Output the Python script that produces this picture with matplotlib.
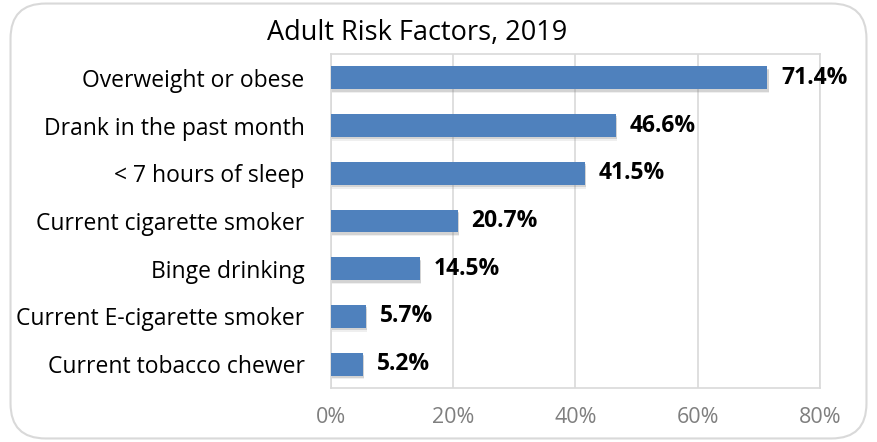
import matplotlib.pyplot as plt
from matplotlib.patches import FancyBboxPatch
import numpy as np

categories = ['Overweight or obese', 'Drank in the past month', '< 7 hours of sleep',
              'Current cigarette smoker', 'Binge drinking', 'Current E-cigarette smoker',
              'Current tobacco chewer']
values = [71.4, 46.6, 41.5, 20.7, 14.5, 5.7, 5.2]
xticks = [0, 20, 40, 60, 80]

plt.rcParams['font.family'] = ['Open Sans', 'DejaVu Sans']

fig = plt.figure(figsize=(8.77, 4.42), dpi=100)
fig.patches.append(FancyBboxPatch((0.012, 0.008), 0.976, 0.984,
                                  boxstyle='round,pad=0,rounding_size=0.04',
                                  transform=fig.transFigure, fc='white',
                                  ec='#D9D9D9', lw=1.5, zorder=-1,
                                  mutation_aspect=877 / 442))
ax = fig.add_axes([0.3774, 0.1222, 0.5576, 0.7557])

y = np.arange(len(categories))
# soft shadow under bars
for k, a in [(0.05, 0.25), (0.08, 0.12)]:
    ax.barh(y + k, values, height=0.48, left=0.2, color='#808080', alpha=a,
            lw=0, zorder=2)
bars = ax.barh(y, values, height=0.48, color='#4F81BD', zorder=3)
ax.bar_label(bars, labels=[f'{v:.1f}%' for v in values], padding=10,
             fontsize=16.5, fontweight='bold')

ax.set_xlim(0, 80)
ax.set_ylim(len(categories) - 0.5, -0.5)
ax.set_xticks(xticks, [f'{t}%' for t in xticks])
ax.set_yticks(y, categories)
ax.tick_params(axis='x', colors='#7F7F7F', labelsize=15.5, length=0, pad=14)
ax.tick_params(axis='y', labelsize=16.5, length=0, pad=19)
ax.grid(axis='x', color='#D9D9D9', lw=1.2, zorder=0)
for s in ax.spines.values():
    s.set_color('#D9D9D9')
    s.set_linewidth(1.2)

fig.text(0.476, 0.925, 'Adult Risk Factors, 2019', ha='center', va='center', fontsize=19.5)

fig.savefig('out.png', dpi=100)
